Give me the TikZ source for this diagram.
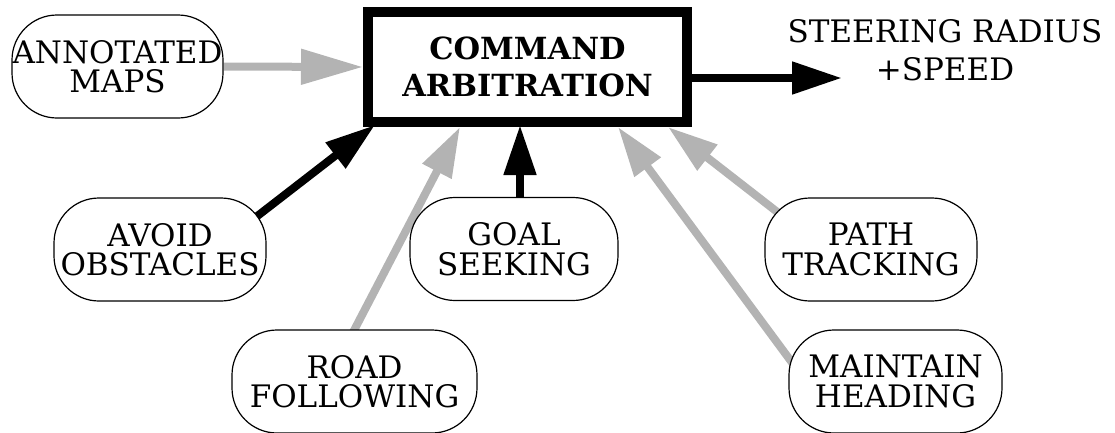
\documentclass[tikz,border=0pt]{standalone}
\usepackage{fontspec}
\setmainfont{DejaVu Serif}
\usetikzlibrary{arrows.meta,calc}
\pgfdeclarelayer{bg}
\pgfsetlayers{bg,main}
\definecolor{arrgray}{RGB}{179,179,179}
\begin{document}
\begin{tikzpicture}[x=1pt,y=-1pt,
  box/.style={draw, line width=1.2pt, rounded corners=45pt, fill=white,
    minimum height=103pt, inner sep=0pt, align=center,
    font=\fontsize{31}{29.5}\selectfont},
  cmdbox/.style={draw, line width=10pt, fill=white, minimum width=319pt,
    minimum height=110pt, inner sep=0pt, align=center,
    font=\fontsize{30.5}{37}\selectfont\bfseries},
  outtext/.style={align=center, inner sep=0pt, font=\fontsize{31}{38}\selectfont},
  garr/.style={color=arrgray, line width=8pt, -{Triangle[length=50pt,width=31pt]}},
  barr/.style={color=black, line width=8pt, -{Triangle[length=50pt,width=31pt]}},
]
\useasboundingbox (0,0) rectangle (1115,432);

\node[box, minimum width=211pt] (maps) at (117.5,66.5) {ANNOTATED\\MAPS};
\node[box, minimum width=212pt] (avoid) at (160,249.5) {AVOID\\OBSTACLES};
\node[box, minimum width=208pt] (goal) at (514,249) {GOAL\\SEEKING};
\node[box, minimum width=212pt] (path) at (871,249.5) {PATH\\TRACKING};
\node[box, minimum width=245pt] (road) at (354.5,381.5) {ROAD\\FOLLOWING};
\node[box, minimum width=213pt] (maint) at (895.5,381.5) {MAINTAIN\\HEADING};
\node[cmdbox] (cmd) at (527.5,67) {COMMAND\\ARBITRATION};
\node[outtext] (out) at (945,50) {STEERING RADIUS\\+SPEED};
\coordinate (outtip) at (842,78);

\begin{pgfonlayer}{bg}
\draw[garr, -{Triangle[length=62pt,width=34pt]}] (maps.east) -- (cmd.west);
\draw[barr] ($(cmd.east)+(0,11)$) -- (outtip);
\draw[barr] ($(avoid.center)+(87,-25.5)$) -- ($(cmd.south west)+(12,-2)$);
\draw[garr] ($(road.center)+(-5.5,-41.5)$) -- ($(cmd.south)+(-67.5,0)$);
\draw[barr] ($(goal.north)+(6,4)$) -- ($(cmd.south)+(-7.5,-2)$);
\draw[garr] ($(path.center)+(-86,-31.5)$) -- ($(cmd.south)+(140.5,0)$);
\draw[garr] ($(maint.center)+(-99.5,-13.5)$) -- ($(cmd.south)+(90.5,0)$);
\end{pgfonlayer}
\end{tikzpicture}
\end{document}
